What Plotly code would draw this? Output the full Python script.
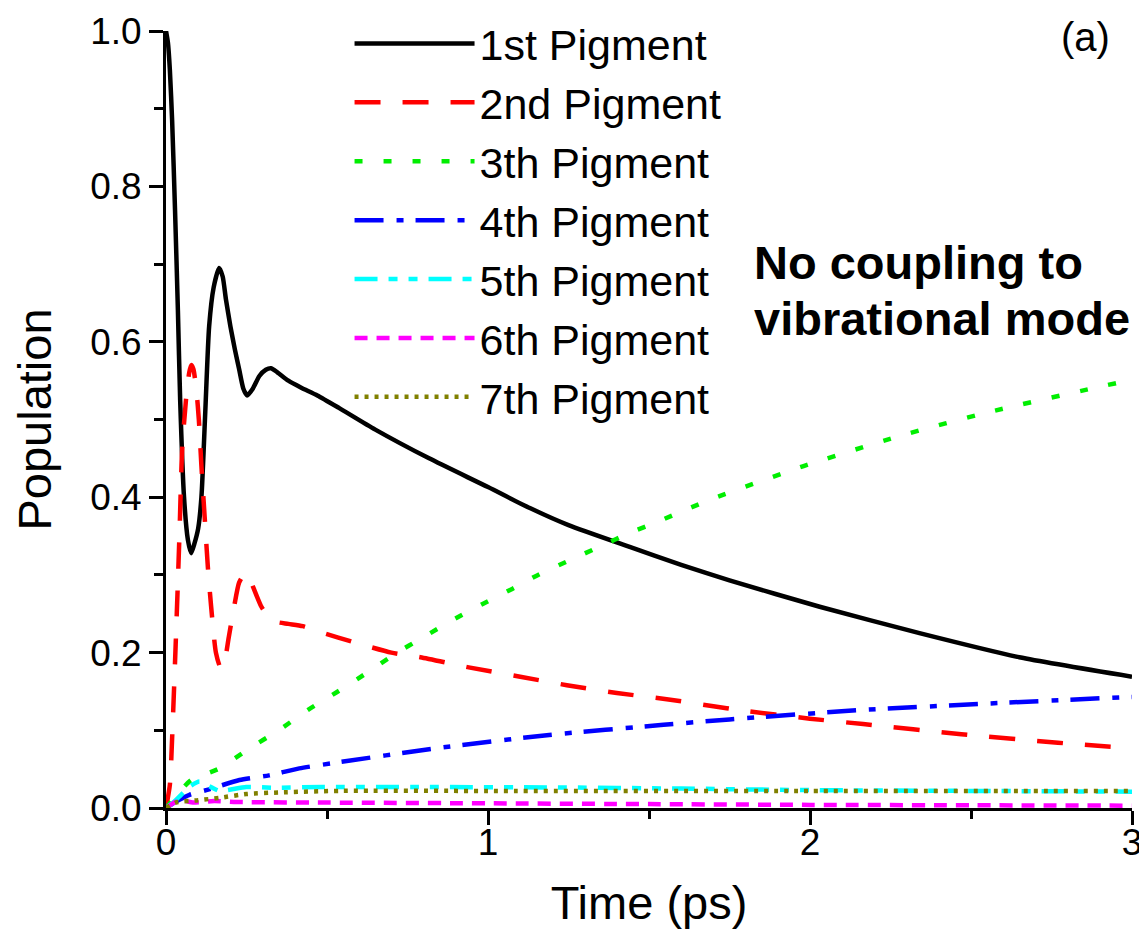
import plotly.graph_objects as go

# ---------------- data ----------------
t1 = [0, 0.006, 0.012, 0.019, 0.028, 0.037, 0.044, 0.056, 0.068, 0.078, 0.088, 0.1, 0.11,
      0.122, 0.134, 0.148, 0.165, 0.176, 0.186, 0.2, 0.214, 0.227, 0.24, 0.252, 0.27, 0.29,
      0.31, 0.326, 0.345, 0.38, 0.42, 0.47, 0.537, 0.65, 0.817, 1.0, 1.13, 1.25, 1.44, 1.6,
      1.75, 2.03, 2.34, 2.65, 3.0]
p1 = [1.0, 0.985, 0.95, 0.885, 0.77, 0.64, 0.525, 0.40, 0.345, 0.328, 0.34, 0.36, 0.40,
      0.51, 0.62, 0.67, 0.695, 0.684, 0.655, 0.62, 0.59, 0.565, 0.54, 0.531, 0.54, 0.556,
      0.564, 0.566, 0.561, 0.55, 0.541, 0.531, 0.515, 0.487, 0.45, 0.413, 0.386, 0.364,
      0.336, 0.313, 0.293, 0.259, 0.225, 0.194, 0.169]

t2 = [0, 0.012, 0.02, 0.03, 0.036, 0.042, 0.05, 0.062, 0.072, 0.078, 0.085, 0.095, 0.102,
      0.11, 0.12, 0.13, 0.14, 0.155, 0.17, 0.18, 0.195, 0.212, 0.227, 0.245, 0.255, 0.27,
      0.295, 0.315, 0.338, 0.38, 0.425, 0.49, 0.578, 0.7, 0.79, 0.94, 1.1, 1.245, 1.4, 1.555,
      1.7, 1.78, 2.0, 2.165, 2.47, 2.77, 3.0]
p2 = [0, 0.03, 0.10, 0.21, 0.28, 0.354, 0.46, 0.525, 0.56, 0.57, 0.565, 0.535, 0.50,
      0.44, 0.375, 0.31, 0.26, 0.20, 0.18, 0.185, 0.22, 0.26, 0.29, 0.302, 0.30, 0.285,
      0.26, 0.248, 0.24, 0.237, 0.234, 0.225, 0.214, 0.20, 0.194, 0.181, 0.169, 0.158, 0.148,
      0.14, 0.131, 0.126, 0.115, 0.108, 0.095, 0.084, 0.077]

t3 = [0, 0.04, 0.078, 0.166, 0.26, 0.35, 0.44, 0.53, 0.624, 0.71, 0.80, 0.89, 0.985, 1.075,
      1.16, 1.255, 1.35, 1.44, 1.53, 1.62, 1.71, 1.98, 2.28, 2.56, 2.92, 3.0]
p3 = [0, 0.02, 0.036, 0.051, 0.077, 0.10, 0.126, 0.149, 0.174, 0.198, 0.22, 0.242, 0.263,
      0.282, 0.301, 0.319, 0.337, 0.354, 0.369, 0.385, 0.40, 0.44, 0.479, 0.51, 0.544, 0.551]

t4 = [0, 0.03, 0.073, 0.134, 0.228, 0.32, 0.414, 0.514, 0.84, 1.19, 1.545, 1.75, 2.155,
      2.53, 3.0]
p4 = [0, 0.008, 0.017, 0.024, 0.036, 0.042, 0.051, 0.0575, 0.077, 0.094, 0.107, 0.114,
      0.126, 0.134, 0.143]

t5 = [0, 0.02, 0.047, 0.075, 0.104, 0.135, 0.166, 0.249, 0.337, 0.483, 0.8, 1.2, 1.6, 2.0,
      2.5, 3.0]
p5 = [0, 0.006, 0.017, 0.028, 0.034, 0.028, 0.022, 0.027, 0.026, 0.027, 0.027, 0.0265,
      0.025, 0.023, 0.022, 0.021]

t6 = [0, 0.03, 0.06, 0.083, 0.15, 0.22, 0.5, 1.0, 1.5, 2.0, 2.5, 3.0]
p6 = [0, 0.008, 0.009, 0.007, 0.009, 0.0077, 0.007, 0.006, 0.005, 0.004, 0.0035, 0.003]

t7 = [0, 0.03, 0.1, 0.165, 0.25, 0.35, 0.54, 1.0, 2.0, 3.0]
p7 = [0, 0.007, 0.01, 0.013, 0.018, 0.02, 0.022, 0.022, 0.022, 0.022]

names = ["1st Pigment", "2nd Pigment", "3th Pigment", "4th Pigment",
         "5th Pigment", "6th Pigment", "7th Pigment"]
x_ticks = [0, 1, 2, 3]
y_ticks = [0.0, 0.2, 0.4, 0.6, 0.8, 1.0]

# ---------------- styles ----------------
series = [(t1, p1), (t2, p2), (t3, p3), (t4, p4), (t5, p5), (t6, p6), (t7, p7)]
colors = ["#000000", "#ff0000", "#00ee00", "#0000ff", "#00ffff", "#ff00ff", "#808000"]
dashes = ["solid", "26px,22px", "8px,21px", "29px,13px,7px,12px",
          "23px,11px,9px,11px,9px,11px", "13px,9px", "4px,6px"]

fig = go.Figure()
for (tx, py), nm, c, d in zip(series, names, colors, dashes):
    fig.add_trace(go.Scatter(
        x=tx, y=py, name=nm, mode="lines",
        line=dict(color=c, width=4.5, dash=d, shape="spline", smoothing=0.6),
    ))

FONT = "Liberation Sans, Arial, sans-serif"

# the page body adds an 8px margin, so the figure is sized to fit inside the window
fig.update_layout(
    width=1139, height=928,
    margin=dict(l=158, r=15, t=23, b=128, autoexpand=False),
    paper_bgcolor="white", plot_bgcolor="white",
    font=dict(family=FONT, color="black"),
    showlegend=True,
    legend=dict(
        x=0.19, y=1.0283, xanchor="left", yanchor="top",
        bgcolor="rgba(0,0,0,0)", borderwidth=0,
        font=dict(size=43, family=FONT, color="black"),
        itemwidth=120, tracegroupgap=0,
    ),
    xaxis=dict(
        range=[0, 3], tickvals=x_ticks, ticktext=[str(v) for v in x_ticks],
        automargin=False,
        showline=True, linecolor="black", linewidth=3, mirror=False,
        ticks="outside", ticklen=14, tickwidth=3, tickcolor="black",
        minor=dict(ticks="outside", ticklen=8, tickwidth=3, tickcolor="black", dtick=0.5, showgrid=False),
        showgrid=False, zeroline=False,
        tickfont=dict(size=37, family=FONT), ticklabelstandoff=-14,
        title=dict(text="Time (ps)", font=dict(size=47, family=FONT), standoff=24),
    ),
    yaxis=dict(
        range=[0, 1], tickvals=y_ticks, ticktext=[f"{v:.1f}" for v in y_ticks],
        automargin=False,
        showline=True, linecolor="black", linewidth=3, mirror=False,
        ticks="outside", ticklen=14, tickwidth=3, tickcolor="black",
        minor=dict(ticks="outside", ticklen=9, tickwidth=3, tickcolor="black", dtick=0.1, showgrid=False),
        showgrid=False, zeroline=False,
        tickfont=dict(size=37, family=FONT),
        title=dict(text="Population", font=dict(size=47, family=FONT), standoff=40),
    ),
    annotations=[
        dict(text="(a)", x=0.979, y=0.992, xref="paper", yref="paper",
             xanchor="right", yanchor="middle", showarrow=False,
             font=dict(size=40, family=FONT, color="black")),
        dict(text="<b>No coupling to</b>", x=0.607, y=0.7027,
             xref="paper", yref="paper", xanchor="left", yanchor="middle",
             align="left", showarrow=False,
             font=dict(size=47, family=FONT, color="black")),
        dict(text="<b>vibrational mode</b>", x=0.607, y=0.6306,
             xref="paper", yref="paper", xanchor="left", yanchor="middle",
             align="left", showarrow=False,
             font=dict(size=47, family=FONT, color="black")),
    ],
)

fig.write_html("out.html")
